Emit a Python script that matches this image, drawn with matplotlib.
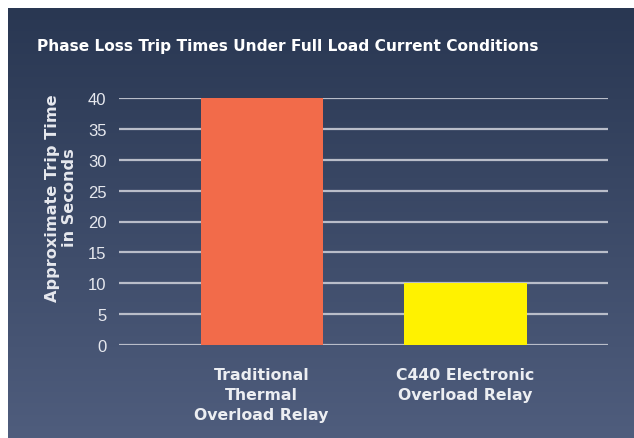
import numpy as np
import matplotlib.pyplot as plt

relays = ["Traditional\nThermal\nOverload Relay", "C440 Electronic\nOverload Relay"]
trip_seconds = [40, 10]
bar_colors = ["#f26b4a", "#fff200"]
yticks = [0, 5, 10, 15, 20, 25, 30, 35, 40]

fig = plt.figure(figsize=(6.34, 4.39), dpi=100)
fig.patch.set_facecolor("white")

# dark gradient panel behind the chart
bg = fig.add_axes([8 / 634, 0, 626 / 634, 430 / 439], zorder=0)
grad = np.linspace(0, 1, 256).reshape(-1, 1)
top = np.array([0x29, 0x37, 0x52]) / 255
bot = np.array([0x4f, 0x5d, 0x7d]) / 255
img = top + (bot - top) * grad[:, :, None]
bg.imshow(img, aspect="auto", extent=[0, 1, 0, 1], origin="upper")
bg.set_axis_off()

ax = fig.add_axes([119 / 634, 1 - 346 / 439, (608 - 119) / 634, (346 - 99) / 439], zorder=1)
ax.patch.set_alpha(0)
x = np.arange(len(relays))
ax.bar(x, trip_seconds, width=0.6, color=bar_colors, zorder=3)
ax.set_xlim(-0.7, 1.7)
ax.set_ylim(0, 40)
ax.set_yticks(yticks)
for v in yticks:
    ax.axhline(v, color="#b9bdc9", lw=1.6, zorder=2)
ax.set_yticklabels([str(v) for v in yticks], color="#e6e8ee", fontsize=12,
                   family=["Liberation Sans", "DejaVu Sans"])
ax.tick_params(axis="y", length=0, pad=9)
ax.set_xticks(x)
ax.set_xticklabels(relays, color="#eceef2", fontsize=11.3, fontweight="bold", linespacing=1.4)
ax.tick_params(axis="x", length=0, pad=16)
for s in ax.spines.values():
    s.set_visible(False)
ax.set_ylabel("Approximate Trip Time\nin Seconds", color="#e6e8ee", fontsize=11.6,
              fontweight="bold", linespacing=1.2)
ax.yaxis.set_label_coords(-0.086, 0.60)

fig.text(37 / 634, 1 - 46 / 439, "Phase Loss Trip Times Under Full Load Current Conditions",
         color="white", fontsize=11.1, fontweight="bold", va="center")

fig.savefig("out.png", dpi=100)
